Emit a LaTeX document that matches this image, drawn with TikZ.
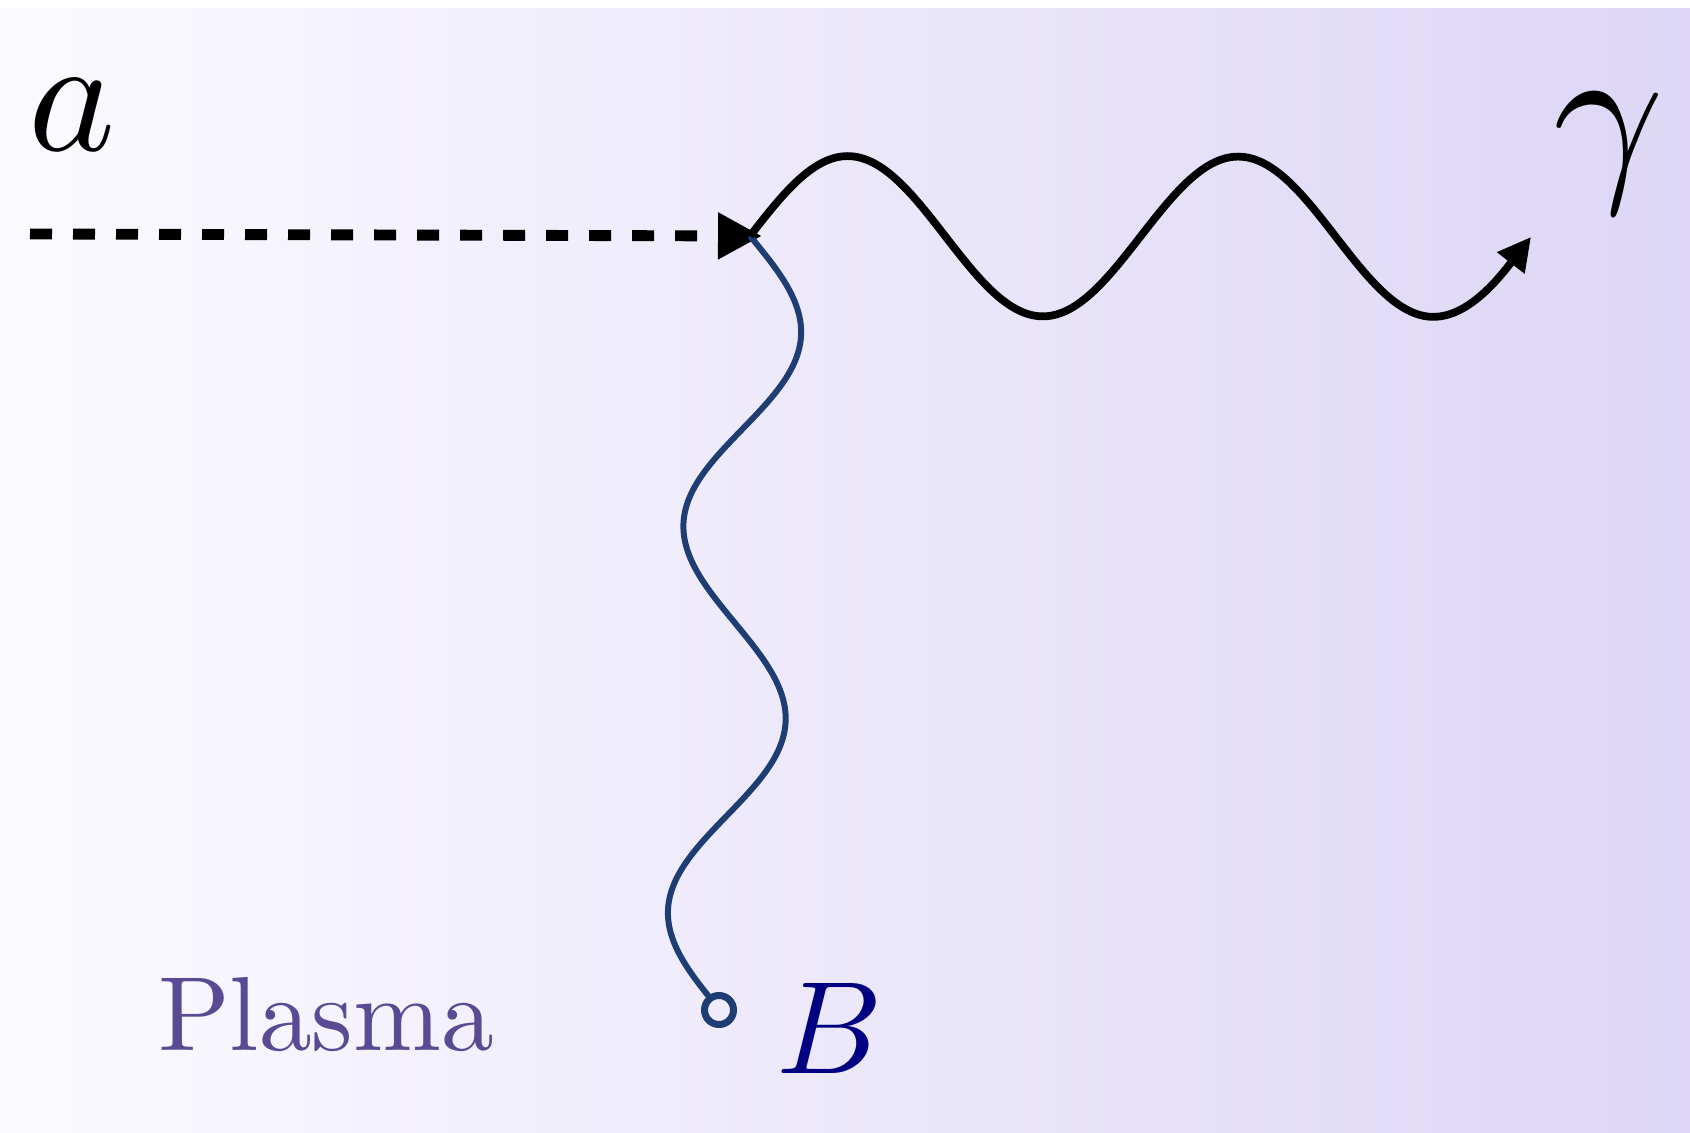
\documentclass[tikz,border=0pt]{standalone}
\usepackage{graphicx}
\usetikzlibrary{arrows.meta,decorations}
\definecolor{bgleft}{RGB}{251,250,255}
\definecolor{bgright}{RGB}{221,214,246}
\definecolor{fieldblue}{RGB}{30,62,115}
\definecolor{labelnavy}{RGB}{0,0,128}
\definecolor{plasmapurple}{RGB}{90,74,148}
% one full sine period per segment, nothing after the last one
\pgfdeclaredecoration{sinewave}{initial}
{
  \state{initial}[width=\pgfdecorationsegmentlength]
  {
    \pgfpathcurveto{\pgfqpoint{.0815\pgfdecorationsegmentlength}{.5123\pgfdecorationsegmentamplitude}}
                   {\pgfqpoint{.1595\pgfdecorationsegmentlength}{\pgfdecorationsegmentamplitude}}
                   {\pgfqpoint{.25\pgfdecorationsegmentlength}{\pgfdecorationsegmentamplitude}}
    \pgfpathcurveto{\pgfqpoint{.3405\pgfdecorationsegmentlength}{\pgfdecorationsegmentamplitude}}
                   {\pgfqpoint{.4185\pgfdecorationsegmentlength}{.5123\pgfdecorationsegmentamplitude}}
                   {\pgfqpoint{.5\pgfdecorationsegmentlength}{0pt}}
    \pgfpathcurveto{\pgfqpoint{.5815\pgfdecorationsegmentlength}{-.5123\pgfdecorationsegmentamplitude}}
                   {\pgfqpoint{.6595\pgfdecorationsegmentlength}{-\pgfdecorationsegmentamplitude}}
                   {\pgfqpoint{.75\pgfdecorationsegmentlength}{-\pgfdecorationsegmentamplitude}}
    \pgfpathcurveto{\pgfqpoint{.8405\pgfdecorationsegmentlength}{-\pgfdecorationsegmentamplitude}}
                   {\pgfqpoint{.9185\pgfdecorationsegmentlength}{-.5123\pgfdecorationsegmentamplitude}}
                   {\pgfqpoint{\pgfdecorationsegmentlength}{0pt}}
  }
  \state{final}{}
}
\begin{document}
\begin{tikzpicture}[
    axion/.style = {line width=3.1pt, dash pattern=on 0.22cm off 0.21cm, -{Triangle[length=0.44cm, width=0.44cm]}},
    photon/.style = {line width=2.2pt, decorate, decoration={sinewave, segment length=3.905cm, amplitude=0.80cm}, -{Triangle[length=0.33cm, width=0.33cm]}},
    field/.style = {line width=1.7pt, draw=fieldblue, decorate, decoration={sinewave, segment length=3.868cm, amplitude=0.55cm}},
    source/.style = {circle, draw=fieldblue, fill=bgleft!57!bgright, line width=2pt, minimum size=0.29cm, inner sep=0pt},
    lbl/.style = {inner sep=0pt}]
    \useasboundingbox (0,0) rectangle (16.9,11.32);
    \shade[left color=bgleft, right color=bgright] (0,0) rectangle (16.9,11.23);

    \coordinate (astart) at (0.30,8.98);
    \coordinate (v) at (7.50,8.96);
    \coordinate (gend) at (15.32,8.95);
    \coordinate (bfoot) at (7.19,1.22);

    \node[lbl] (a) at (0.72,10.17) {\scalebox{4.7}{$a$}};
    \node[lbl] (gamma) at (16.09,9.78) {\scalebox{5.5}{$\gamma$}};
    \node[lbl, text=labelnavy] (B) at (8.30,1.04) {\scalebox{3.75}{$B$}};
    \node[lbl, text=plasmapurple, anchor=base] (plasma) at (3.26,0.82) {\scalebox{3}{Plasma}};

    \draw[axion, shorten >=-0.12cm] (astart) -- (v);
    \draw[field] (v) -- (bfoot);
    \node[source] (src) at (bfoot) {};
    \draw[photon] (v) -- (gend);
\end{tikzpicture}
\end{document}
